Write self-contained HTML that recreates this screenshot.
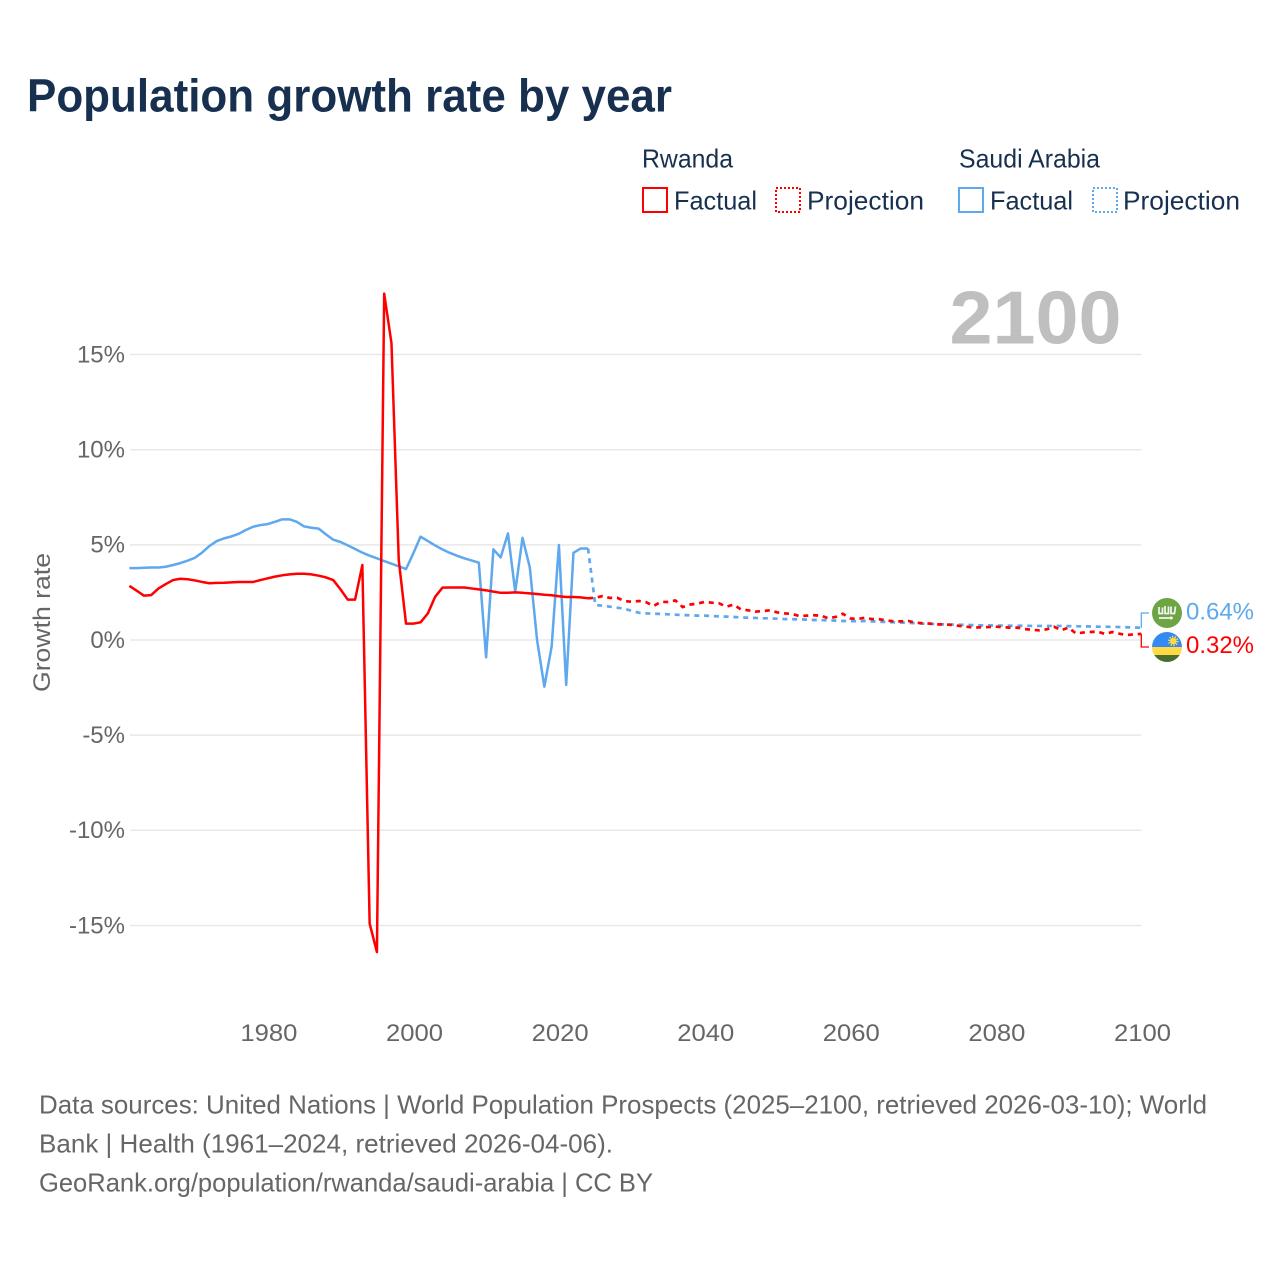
<!DOCTYPE html>
<html lang="en">
<head>
<meta charset="utf-8">
<title>Population growth rate by year</title>
<style>
html,body{margin:0;padding:0;background:#fff;width:1280px;height:1280px;overflow:hidden}
svg{display:block}
text{font-family:"Liberation Sans",sans-serif}
</style>
</head>
<body>
<svg id="chart" xmlns="http://www.w3.org/2000/svg" width="1280" height="1280" viewBox="0 0 1280 1280">
  <rect width="1280" height="1280" fill="#fff"/>
  <text x="27" y="111.500" font-size="46" font-weight="700" fill="#18304f" textLength="645" lengthAdjust="spacingAndGlyphs">Population growth rate by year</text>

  <g font-size="26" fill="#18304f">
    <text x="642" y="167.500" textLength="91" lengthAdjust="spacingAndGlyphs">Rwanda</text>
    <text x="959" y="167.500" textLength="141" lengthAdjust="spacingAndGlyphs">Saudi Arabia</text>
    <g>
      <rect x="643" y="188" width="24" height="24" fill="none" stroke="#ff0000" stroke-width="2"/>
      <text x="674" y="209.500" textLength="83" lengthAdjust="spacingAndGlyphs">Factual</text>
    </g>
    <g>
      <rect x="776" y="188" width="24" height="24" fill="none" stroke="#ff0000" stroke-width="2" stroke-dasharray="2 2"/>
      <text x="807" y="209.500" textLength="117" lengthAdjust="spacingAndGlyphs">Projection</text>
    </g>
    <g>
      <rect x="959" y="188" width="24" height="24" fill="none" stroke="#5ea8ee" stroke-width="2"/>
      <text x="990" y="209.500" textLength="83" lengthAdjust="spacingAndGlyphs">Factual</text>
    </g>
    <g>
      <rect x="1093" y="188" width="24" height="24" fill="none" stroke="#5ea8ee" stroke-width="2" stroke-dasharray="2 2"/>
      <text x="1123" y="209.500" textLength="117" lengthAdjust="spacingAndGlyphs">Projection</text>
    </g>
  </g>

  <text transform="translate(50,622.500) rotate(-90)" text-anchor="middle" font-size="24" fill="#666" textLength="139" lengthAdjust="spacingAndGlyphs">Growth rate</text>

  <g id="grid"></g>
  <g id="yticks"></g>
  <g id="xticks"></g>

  <text x="949.500" y="343.500" font-size="75" font-weight="700" fill="#bfbfbf" textLength="172" lengthAdjust="spacingAndGlyphs">2100</text>

  <g id="series"></g>
  <g id="endcaps"></g>

  <g>
    <circle cx="1167" cy="613" r="15" fill="#6da544"/>
    <path d="M1159 607v6.500h3.500v-6M1165 606v7.500h3.500v-7M1171 606.500v7h3.500l1-7" fill="none" stroke="#f4f4f4" stroke-width="1.700"/>
    <path d="M1159 618h14M1171 616.500v3" fill="none" stroke="#f4f4f4" stroke-width="1.800"/>
  </g>
  <g>
    <clipPath id="rw-clip"><circle cx="1167" cy="647" r="15"/></clipPath>
    <g clip-path="url(#rw-clip)">
      <rect x="1152" y="632" width="30" height="15" fill="#338af3"/>
      <rect x="1152" y="647" width="30" height="8" fill="#ffda44"/>
      <rect x="1152" y="655" width="30" height="7" fill="#496e2d"/>
    </g>
    <circle cx="1173.300" cy="641" r="4.300" fill="none" stroke="#ffda44" stroke-width="2" stroke-dasharray="1.300 1.400"/>
    <circle cx="1173.300" cy="641" r="3.300" fill="#ffda44"/>
  </g>

  <text id="label-sa" x="1186" y="619.500" font-size="24" fill="#5ea8ee" textLength="68" lengthAdjust="spacingAndGlyphs">0.64%</text>
  <text id="label-rw" x="1186" y="653" font-size="24" fill="#ff0000" textLength="68" lengthAdjust="spacingAndGlyphs">0.32%</text>

  <g font-size="26" fill="#666">
    <text x="39" y="1113.500" textLength="1168" lengthAdjust="spacingAndGlyphs">Data sources: United Nations | World Population Prospects (2025–2100, retrieved 2026-03-10); World</text>
    <text x="39" y="1152.500" textLength="574" lengthAdjust="spacingAndGlyphs">Bank | Health (1961–2024, retrieved 2026-04-06).</text>
    <text x="39" y="1191.500" textLength="614" lengthAdjust="spacingAndGlyphs">GeoRank.org/population/rwanda/saudi-arabia | CC BY</text>
  </g>
</svg>
<script>
var yTickValues = [15, 10, 5, 0, -5, -10, -15];
var xTickYears = [1980, 2000, 2020, 2040, 2060, 2080, 2100];
var factualStartYear = 1961;
var projectionStartYear = 2024;

var rwandaFactual = [2.84,2.59,2.33,2.36,2.71,2.94,3.15,3.22,3.19,3.13,3.05,2.98,3.0,3.01,3.03,3.05,3.05,3.05,3.15,3.24,3.33,3.40,3.45,3.48,3.48,3.45,3.38,3.29,3.15,2.66,2.12,2.12,3.94,-14.9,-16.4,18.2,15.6,4.2,0.86,0.86,0.93,1.40,2.27,2.75,2.76,2.76,2.76,2.71,2.66,2.61,2.54,2.48,2.48,2.5,2.48,2.45,2.42,2.38,2.35,2.3,2.26,2.26,2.24,2.19];
var rwandaProjection = [2.19,2.22,2.31,2.21,2.22,2.05,2.01,2.05,1.98,1.79,2.0,2.0,2.08,1.73,1.86,1.91,2.0,1.96,1.93,1.75,1.86,1.61,1.56,1.49,1.52,1.56,1.45,1.40,1.37,1.26,1.28,1.30,1.28,1.14,1.21,1.38,1.14,1.10,1.17,1.10,1.09,1.03,0.98,0.98,1.0,0.91,0.88,0.86,0.82,0.82,0.79,0.74,0.70,0.65,0.67,0.68,0.70,0.67,0.65,0.65,0.58,0.53,0.51,0.56,0.70,0.51,0.65,0.35,0.39,0.42,0.44,0.32,0.42,0.33,0.26,0.30,0.32];
var saudiFactual = [3.78,3.78,3.80,3.81,3.81,3.85,3.94,4.04,4.17,4.32,4.6,4.94,5.2,5.34,5.44,5.58,5.78,5.95,6.04,6.09,6.21,6.34,6.34,6.21,5.97,5.9,5.85,5.55,5.27,5.15,4.97,4.78,4.59,4.43,4.29,4.15,4.01,3.87,3.73,4.55,5.43,5.2,4.97,4.76,4.58,4.43,4.29,4.18,4.06,-0.91,4.76,4.34,5.6,2.54,5.37,3.82,0.0,-2.45,-0.35,4.99,-2.36,4.58,4.81,4.81];
var saudiProjection = [4.81,1.84,1.80,1.75,1.70,1.64,1.54,1.43,1.40,1.38,1.37,1.35,1.33,1.31,1.30,1.28,1.28,1.26,1.24,1.23,1.21,1.19,1.17,1.16,1.14,1.14,1.12,1.10,1.09,1.09,1.07,1.05,1.05,1.03,1.02,1.0,1.0,0.98,1.0,0.98,0.96,0.95,0.93,0.92,0.90,0.88,0.86,0.85,0.83,0.82,0.81,0.80,0.79,0.78,0.77,0.77,0.76,0.76,0.75,0.75,0.75,0.74,0.74,0.74,0.74,0.74,0.73,0.72,0.72,0.71,0.70,0.70,0.69,0.68,0.67,0.66,0.64];

var SVGNS = 'http://www.w3.org/2000/svg';
function xScale(year) { return 129.4 + (year - 1961) * (1141.3 - 129.4) / (2100 - 1961); }
function yScale(v) { return 640 - v * 19.03; }
function mk(tag, parent) { var e = document.createElementNS(SVGNS, tag); parent.appendChild(e); return e; }

var grid = document.getElementById('grid');
var yticks = document.getElementById('yticks');
yTickValues.forEach(function (v) {
  var ln = mk('line', grid);
  
  
  ln.setAttribute('x1', 130);
  ln.setAttribute('x2', 1141.5);
  ln.setAttribute('y1', yScale(v));
  ln.setAttribute('y2', yScale(v));
  ln.setAttribute('stroke', '#e8e8e8');
  ln.setAttribute('stroke-width', '1.500');
  var t = mk('text', yticks);
  
  
  t.setAttribute('x', 125);
  t.setAttribute('y', yScale(v) + 7.800);
  t.setAttribute('text-anchor', 'end');
  t.setAttribute('font-size', '24');
  t.setAttribute('fill', '#666');
  t.textContent = v + '%';
});

var xticks = document.getElementById('xticks');
xTickYears.forEach(function (yr) {
  var t = mk('text', xticks);
  
  
  t.setAttribute('x', xScale(yr) + 1.200);
  t.setAttribute('y', 1041);
  t.setAttribute('text-anchor', 'middle');
  t.setAttribute('font-size', '24');
  t.setAttribute('fill', '#666');
  t.setAttribute('textLength', '57');
  t.setAttribute('lengthAdjust', 'spacingAndGlyphs');
  t.textContent = String(yr);
});

function pointsFor(values, startYear) {
  return values.map(function (v, i) {
    return xScale(startYear + i).toFixed(2) + ',' + yScale(v).toFixed(2);
  }).join(' ');
}
var series = document.getElementById('series');

var saF = mk('polyline', series);


saF.setAttribute('points', pointsFor(saudiFactual, factualStartYear));
saF.setAttribute('fill', 'none');
saF.setAttribute('stroke', '#5ea8ee');
saF.setAttribute('stroke-width', '2.500');
saF.setAttribute('stroke-linejoin', 'round');

var saP = mk('polyline', series);


saP.setAttribute('points', pointsFor(saudiProjection, projectionStartYear));
saP.setAttribute('fill', 'none');
saP.setAttribute('stroke', '#5ea8ee');
saP.setAttribute('stroke-width', '2.700');
saP.setAttribute('stroke-dasharray', '5 4.800');

var rwF = mk('polyline', series);


rwF.setAttribute('points', pointsFor(rwandaFactual, factualStartYear));
rwF.setAttribute('fill', 'none');
rwF.setAttribute('stroke', '#ff0000');
rwF.setAttribute('stroke-width', '2.500');
rwF.setAttribute('stroke-linejoin', 'round');

var rwP = mk('polyline', series);


rwP.setAttribute('points', pointsFor(rwandaProjection, projectionStartYear));
rwP.setAttribute('fill', 'none');
rwP.setAttribute('stroke', '#ff0000');
rwP.setAttribute('stroke-width', '2.700');
rwP.setAttribute('stroke-dasharray', '5 4.800');

var endX = xScale(2100);
var caps = document.getElementById('endcaps');

var capSa = mk('polyline', caps);


capSa.setAttribute('points', endX + ',' + yScale(saudiProjection[saudiProjection.length - 1]) + ' ' + endX + ',613 1149,613');
capSa.setAttribute('fill', 'none');
capSa.setAttribute('stroke', '#5ea8ee');
capSa.setAttribute('stroke-width', '1.300');

var capRw = mk('polyline', caps);


capRw.setAttribute('points', endX + ',' + yScale(rwandaProjection[rwandaProjection.length - 1]) + ' ' + endX + ',647 1149,647');
capRw.setAttribute('fill', 'none');
capRw.setAttribute('stroke', '#ff0000');
capRw.setAttribute('stroke-width', '1.300');
</script>
</body>
</html>
